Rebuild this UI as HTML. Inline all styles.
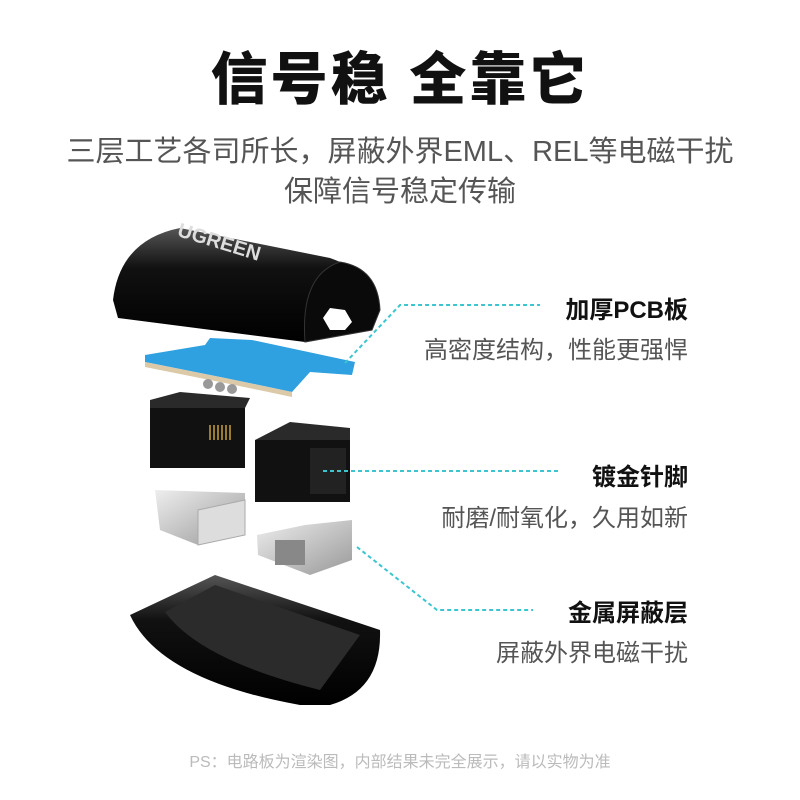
<!DOCTYPE html>
<html><head><meta charset="utf-8"><style>
html,body{margin:0;padding:0;background:#fff;}
body{width:800px;height:800px;position:relative;overflow:hidden;font-family:"Liberation Sans","Noto Sans CJK SC",sans-serif;}
.t{position:absolute;white-space:nowrap;}
</style></head><body>
<div class="t" style="left:0;width:800px;text-align:center;top:34px;font-size:57px;font-weight:900;color:#111;letter-spacing:3px;">信号稳&nbsp;全靠它</div>
<div class="t" style="left:0;width:800px;text-align:center;top:128px;font-size:29px;color:#555;">三层工艺各司所长，屏蔽外界EML、REL等电磁干扰</div>
<div class="t" style="left:0;width:800px;text-align:center;top:168px;font-size:29px;color:#555;">保障信号稳定传输</div>

<svg width="800" height="800" style="position:absolute;left:0;top:0">
<defs>
<linearGradient id="blk" x1="0" y1="0" x2="0" y2="1"><stop offset="0" stop-color="#555"/><stop offset="0.35" stop-color="#111"/><stop offset="1" stop-color="#000"/></linearGradient>
<linearGradient id="sil" x1="0" y1="0" x2="1" y2="1"><stop offset="0" stop-color="#eee"/><stop offset="1" stop-color="#999"/></linearGradient>
</defs>
<path d="M113,300 Q120,240 180,228 L330,258 Q378,275 380,310 L372,330 L305,342 L118,318 Z" fill="url(#blk)"/>
<path d="M305,342 Q300,275 340,262 Q378,268 380,310 L372,330 Z" fill="#0a0a0a" stroke="#333"/>
<path d="M323,318 L330,308 L345,310 L352,322 L345,330 L330,330 Z" fill="#fff"/>
<text x="175" y="255" font-size="20" font-weight="bold" fill="#ddd" transform="rotate(17 240 250)" font-family="Liberation Sans">UGREEN</text>
<path d="M145,355 L205,345 L210,338 L252,340 L355,362 L352,375 L310,372 L292,392 L225,378 L145,362 Z" fill="#2fa0e0"/>
<path d="M145,362 L225,378 L292,392 L292,397 L225,383 L145,367 Z" fill="#dbc9a8"/>
<circle cx="208" cy="384" r="5" fill="#999"/><circle cx="220" cy="387" r="5" fill="#999"/><circle cx="232" cy="389" r="5" fill="#999"/>
<rect x="150" y="400" width="95" height="68" fill="#111"/>
<polygon points="150,400 180,392 250,398 245,408 150,408" fill="#2a2a2a"/>
<g stroke="#c9a13a" stroke-width="1.5"><line x1="210" y1="425" x2="210" y2="440"/><line x1="214" y1="425" x2="214" y2="440"/><line x1="218" y1="425" x2="218" y2="440"/><line x1="222" y1="425" x2="222" y2="440"/><line x1="226" y1="425" x2="226" y2="440"/><line x1="230" y1="425" x2="230" y2="440"/></g>
<rect x="255" y="440" width="95" height="62" fill="#111"/>
<polygon points="255,440 290,422 350,428 350,440" fill="#2a2a2a"/>
<rect x="310" y="448" width="36" height="46" fill="#222"/>
<polygon points="155,490 245,493 245,535 198,545 160,530" fill="url(#sil)"/>
<polygon points="198,510 245,500 245,535 198,545" fill="#ddd" stroke="#aaa"/>
<polygon points="257,535 305,525 352,520 352,560 310,575 258,555" fill="url(#sil)"/>
<rect x="275" y="540" width="30" height="25" fill="#888"/>
<path d="M130,615 L215,575 L380,630 Q382,690 330,705 L300,705 Q160,680 130,615 Z" fill="url(#blk)"/>
<path d="M165,612 L215,585 L360,635 L320,690 Q200,660 165,612 Z" fill="#2b2b2b"/>
<g stroke="#3cc4cf" stroke-width="2" stroke-dasharray="4,3" fill="none">
<polyline points="345,363 400,305 540,305"/>
<polyline points="323,471 560,471"/>
<polyline points="357,547 437,610 533,610"/>
</g>
</svg>

<div class="t" style="right:112px;top:290px;font-size:24px;font-weight:bold;color:#111;">加厚PCB板</div>
<div class="t" style="right:112px;top:330px;font-size:24px;color:#555;">高密度结构，性能更强悍</div>
<div class="t" style="right:112px;top:457px;font-size:24px;font-weight:bold;color:#111;">镀金针脚</div>
<div class="t" style="right:112px;top:498px;font-size:24px;color:#555;">耐磨/耐氧化，久用如新</div>
<div class="t" style="right:112px;top:593px;font-size:24px;font-weight:bold;color:#111;">金属屏蔽层</div>
<div class="t" style="right:112px;top:633px;font-size:24px;color:#555;">屏蔽外界电磁干扰</div>
<div class="t" style="left:0;width:800px;text-align:center;top:748px;font-size:16px;color:#bbb;">PS：电路板为渲染图，内部结果未完全展示，请以实物为准</div>
</body></html>
